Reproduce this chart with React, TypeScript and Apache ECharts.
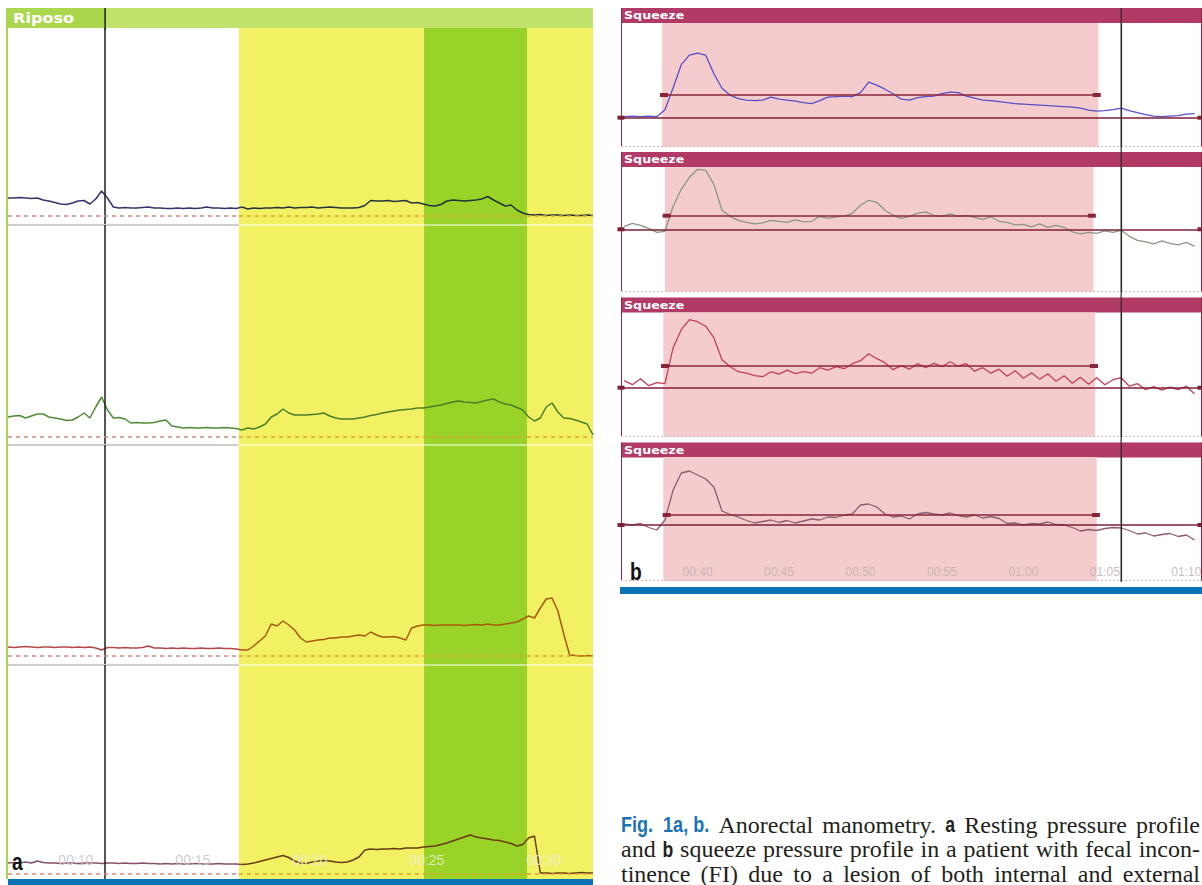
import React, { useEffect, useRef } from "react";
import * as echarts from "echarts";

// ---------- Panel a (resting profile) ----------
const A_T0 = 7.1;
const A_STEP = 0.25;
const A_RANGE = [7.1, 32.1];
const A_TICKS = [10, 15, 20, 25, 30];
const A_CURSOR = 11.25;
const A_YELLOW = [16.97, 32.1];
const A_GREEN = [24.88, 29.28];

const A_CH1 = [
  18, 18, 18.5, 18, 17.5, 18, 16, 15, 13.5, 12,
  11.5, 13, 15, 15.5, 12, 17, 25, 18, 9, 8,
  8.5, 8, 8, 8.5, 9, 8, 8, 7.5, 7.5, 8,
  7.5, 8, 7.5, 8, 9, 8, 8, 7.5, 8, 7.5,
  9, 7, 8, 7.5, 8, 8, 8.5, 8, 9, 8,
  8.5, 8.5, 9, 8, 8.5, 9, 8.5, 8, 8, 8,
  8.5, 10.5, 15.5, 15, 15, 15.5, 14.5, 15, 15.5, 13,
  13.5, 12, 10.5, 10, 11.5, 15, 16, 15.5, 15, 15.5,
  16, 17, 19.5, 16, 13, 10, 11, 6, 3, 1.5,
  1, 1.5, 0.5, 1, 1, 0.5, 1, 0.5, 0.5, 1, 0.5,
];
const A_CH2 = [
  20, 21, 21.5, 19, 21, 23, 23, 20, 19, 18,
  16.5, 17, 20, 24, 19, 30, 40, 27, 19, 19.5,
  18, 14, 14.5, 14, 14, 14.5, 16, 17, 11, 10,
  9, 9.5, 9, 9, 9.5, 9, 9, 9.5, 9, 8.5,
  7, 9, 8, 10, 13, 20, 23, 28, 24, 22,
  22, 22, 22.5, 23, 24, 21, 19, 18, 18, 18,
  19, 20, 21.5, 22.5, 24, 25, 26, 27, 27.5, 28,
  29, 29, 30, 31, 32, 33.5, 35, 36, 35, 34.5,
  34, 35.5, 37, 38, 35, 33, 32, 29.5, 27, 20,
  16, 19, 30, 34, 25, 19, 18.5, 17, 15, 13, 2,
];
const A_CH3 = [
  9, 8.5, 9, 9.5, 9, 8.5, 9, 9, 8.5, 9,
  9, 8.5, 9, 8.5, 9, 8, 6, 8.5, 8.5, 8,
  8.5, 8, 8, 8.5, 10, 8, 8, 7.5, 8, 7.5,
  8, 7.5, 7.5, 8, 7.5, 7.5, 8, 7.5, 7.5, 7,
  6, 6, 10, 15, 20, 32, 30, 35, 31, 26,
  18, 14, 15, 16, 16.5, 18, 18, 19, 19, 20,
  21, 20, 24, 21, 19, 19, 19.5, 18, 16, 28,
  30, 31, 31, 30.5, 31, 31, 31, 31, 30.5, 31,
  31.5, 31, 32, 31, 31, 32, 33, 34, 37, 40,
  38, 48, 57, 58, 45, 22, 1, 0.5, 0, 0.5, 0,
];
const A_CH4 = [
  11, 11.5, 11, 12, 11, 13, 11.5, 11, 11, 10.5,
  11, 11, 10.5, 11, 11, 11, 10.5, 11, 11, 10.5,
  11, 10.5, 10.5, 11, 10.5, 10.5, 10, 10.5, 10, 10.5,
  10, 10, 10.5, 10, 10, 10, 10.5, 10, 10, 10,
  9.5, 10, 11, 12.5, 14, 15.5, 17, 18.5, 16.5, 13,
  11, 10.5, 12, 13, 13.5, 13, 12, 11.5, 12, 14,
  17, 24, 25, 24.5, 25, 25, 25.5, 25, 26, 26,
  26, 27, 27.5, 28, 29.5, 31, 33, 35, 37, 39,
  37, 36, 35, 34, 33.5, 32, 30.5, 28, 29.5, 36,
  38, 1, 1, 0.5, 1, 1, 0.5, 1, 1.5, 1, 1,
];
const A_CHANNELS = [A_CH1, A_CH2, A_CH3, A_CH4];
const A_COLORS = [
  ["#33336e", "#24343c"],
  ["#4f8a34", "#4a7f26"],
  ["#b34848", "#a85a0c"],
  ["#86506c", "#6a3a12"],
];

// ---------- Panel b (squeeze profile) ----------
const B_T0 = 35.5;
const B_STEP = 0.5;
const B_RANGE = [35.3, 70.9];
const B_TICKS = [40, 45, 50, 55, 60, 65, 70];
const B_CURSOR = 66.0;
const B_PINK = [[37.82, 64.6], [38.0, 64.3], [37.9, 64.4], [37.9, 64.5]];
const B_MEAN_SPAN = [[37.94, 64.5], [38.1, 64.2], [38.0, 64.33], [38.1, 64.45]];
const B_MEAN = [22.7, 13.6, 21.7, 10];

const B_P1 = [
  1, 1.5, 1, 1.5, 1, 8, 30, 53, 62.5, 64.5,
  62.5, 44, 29.5, 22.5, 19, 17.5, 17, 17.5, 20.5, 18.5,
  17.5, 16.5, 15, 14, 17, 20.5, 21, 21.5, 21, 25,
  35.5, 32.5, 28.5, 24, 18.5, 17.5, 20, 21, 21.5, 24,
  25.5, 25, 21.5, 19.5, 17.5, 17, 16, 15, 14, 13.5,
  13, 12.5, 12, 11.5, 11, 10.5, 9.5, 7.5, 6.5, 7,
  8, 9.5, 7, 5, 3, 1.5, 1, 1.5, 2, 3.5, 4,
];
const B_P2 = [
  3, 6, 4, 1, -3, -2, 23, 40, 52, 60,
  59, 45, 19, 13, 9, 7, 5.5, 6.5, 9, 8,
  7, 9.5, 7.5, 8, 13, 11, 12.5, 13.5, 16, 24,
  29, 27, 19, 14, 11, 13, 16, 17.5, 14, 13,
  15.5, 13, 14, 12, 10, 12.5, 8, 7, 4.5, 5,
  2.5, 5.5, 2, 4, 2, -2.5, -4.5, -3, -4, -1.5,
  -3, -1, -7, -11, -12.5, -14.5, -11.5, -14, -15.5, -13, -17,
];
const B_P3 = [
  7, 3, 9, 2, 5, 4, 40, 58, 68, 66,
  61.5, 50, 28, 21, 16, 14.5, 12, 11, 16, 13.5,
  17.5, 14, 16, 14.5, 20, 17.5, 21, 19, 24, 27,
  34, 29, 25, 18, 22, 18.5, 24, 20, 24.5, 21,
  26, 21.5, 24, 16.5, 20, 14.5, 18.5, 11.5, 17, 9.5,
  15, 8.5, 14, 6.5, 12, 4.5, 10.5, 3.5, 10, 3,
  8, 10, 1.5, 4, -2, 1, -2.5, 0.5, -2, 1.5, -6,
];
const B_P4 = [
  1, 0, 1.5, -2.5, -5, 5, 35, 52, 54, 50,
  46, 38, 14, 10.5, 8, 4.5, 2, 3.5, 5, 2.5,
  4.5, 2, 4, 6, 5, 8, 7.5, 10, 11, 20,
  21, 18, 11, 8, 9, 6, 11, 12.5, 11, 10,
  12, 9.5, 8, 10, 7, 8.5, 6.5, 1.5, 2, 0,
  1.5, 1, 3, 0.5, 0, -2.5, -6, -4.5, -5.5, -3.5,
  -2.5, -3, -5.5, -9, -8, -11, -9.5, -8.5, -11.5, -10, -15,
];
const B_PANELS = [B_P1, B_P2, B_P3, B_P4];
const B_COLORS = ["#5a4ec6", "#8d9585", "#c23f58", "#8f5a72"];

// ---------- caption ----------
const CAPTION_LINES: [string, string][][] = [
  [["fig", "Fig.  1a, b."], ["r", "Anorectal"], ["r", "manometry."], ["b", "a"], ["r", "Resting"], ["r", "pressure"], ["r", "profile"]],
  [["r", "and"], ["b", "b"], ["r", "squeeze"], ["r", "pressure"], ["r", "profile"], ["r", "in"], ["r", "a"], ["r", "patient"], ["r", "with"], ["r", "fecal"], ["r", "incon-"]],
  [["r", "tinence"], ["r", "(FI)"], ["r", "due"], ["r", "to"], ["r", "a"], ["r", "lesion"], ["r", "of"], ["r", "both"], ["r", "internal"], ["r", "and"], ["r", "external"]],
  [["r", "anal"], ["r", "sphincters."]],
];
const CAPTION_Y = [824.5, 849, 873.5, 898];

// ---------- layout ----------
const A_LEFT = 8, A_WIDTH = 585;
const A_TOPS = [28, 225, 445, 665];
const A_BOTTOMS = [225, 445, 665, 879];
const A_Y = [[-9, 188], [-8, 212], [-9, 211], [-5, 209]];

const B_LEFT = 621, B_WIDTH = 580;
const B_TITLES = [8, 152, 297.5, 442.5];
const B_TOPS = [23, 167, 312.5, 457];
const B_BOTTOMS = [146.7, 291.7, 436.7, 581];
const B_Y = [[-29, 94.7], [-62.4, 62.3], [-49, 75.2], [-56, 68]];

const fmt = (v: number) => {
  const m = Math.floor(v / 60);
  const s = Math.round(v % 60);
  return `${String(m).padStart(2, "0")}:${String(s).padStart(2, "0")}`;
};

const seg = (x1: number, y1: number, x2: number, y2: number, lineStyle: any, extra0: any = {}, extra1: any = {}) => [
  { coord: [x1, y1], lineStyle, ...extra0 },
  { coord: [x2, y2], ...extra1 },
];

function buildOption() {
  const grid: any[] = [];
  const xAxis: any[] = [];
  const yAxis: any[] = [];
  const series: any[] = [];

  for (let g = 0; g < 4; g++) {
    grid.push({ left: A_LEFT, width: A_WIDTH, top: A_TOPS[g], height: A_BOTTOMS[g] - A_TOPS[g] });
    xAxis.push({ type: "value", gridIndex: g, min: A_RANGE[0], max: A_RANGE[1], show: false });
    yAxis.push({ type: "value", gridIndex: g, min: A_Y[g][0], max: A_Y[g][1], show: false });
    const yTop = A_Y[g][1], yBot = A_Y[g][0];
    const ml: any[] = [
      seg(A_CURSOR, yBot, A_CURSOR, yTop, { color: "#1e1e1e", width: 1.5, type: "solid" }),
      seg(A_RANGE[0], 0, A_YELLOW[0], 0, { color: "#cf8a78", width: 1.5, type: [4, 4] }),
      seg(A_YELLOW[0], 0, A_RANGE[1], 0, { color: "#e3a02a", width: 1.5, type: [4, 4] }),
    ];
    if (g < 3) {
      const yb = yBot + 0.5;
      ml.push(seg(A_RANGE[0], yb, A_YELLOW[0], yb, { color: "#cfcfcf", width: 2, type: "solid" }));
      ml.push(seg(A_YELLOW[0], yb, A_RANGE[1], yb, { color: "rgba(255,255,255,0.5)", width: 2, type: "solid" }));
    }
    series.push({
      type: "line", xAxisIndex: g, yAxisIndex: g, z: 1, silent: true,
      data: [[A_RANGE[0], yBot]], showSymbol: false, symbol: "none", lineStyle: { opacity: 0 },
      markArea: {
        silent: true,
        data: [
          [{ coord: [A_YELLOW[0], yTop], itemStyle: { color: "#f1f163" } }, { coord: [A_YELLOW[1], yBot] }],
          [{ coord: [A_GREEN[0], yTop], itemStyle: { color: "#99d327" } }, { coord: [A_GREEN[1], yBot] }],
        ],
      },
      markLine: { silent: true, symbol: ["none", "none"], label: { show: false }, data: ml },
    });
    const pts = A_CHANNELS[g].map((v, i) => [+(A_T0 + i * A_STEP).toFixed(3), v]);
    const split = pts.findIndex((d) => d[0] >= A_YELLOW[0]);
    series.push({
      type: "line", xAxisIndex: g, yAxisIndex: g, z: 3, silent: true,
      showSymbol: false, symbol: "none", data: pts.slice(0, split + 1),
      lineStyle: { width: 1.5, color: A_COLORS[g][0] }, itemStyle: { color: A_COLORS[g][0] },
    });
    series.push({
      type: "line", xAxisIndex: g, yAxisIndex: g, z: 3, silent: true,
      showSymbol: false, symbol: "none", data: pts.slice(split),
      lineStyle: { width: 1.5, color: A_COLORS[g][1] }, itemStyle: { color: A_COLORS[g][1] },
    });
  }

  for (let p = 0; p < 4; p++) {
    const gi = 4 + p;
    grid.push({ left: B_LEFT, width: B_WIDTH, top: B_TOPS[p], height: B_BOTTOMS[p] - B_TOPS[p] });
    xAxis.push({ type: "value", gridIndex: gi, min: B_RANGE[0], max: B_RANGE[1], show: false });
    yAxis.push({ type: "value", gridIndex: gi, min: B_Y[p][0], max: B_Y[p][1], show: false });
    const yTop = B_Y[p][1], yBot = B_Y[p][0];
    const dotY = yBot + 0.6;
    series.push({
      type: "line", xAxisIndex: gi, yAxisIndex: gi, z: 1, silent: true,
      data: [[B_RANGE[0], yBot]], showSymbol: false, symbol: "none", lineStyle: { opacity: 0 },
      markArea: {
        silent: true,
        data: [[{ coord: [B_PINK[p][0], yTop], itemStyle: { color: "#f5cccd" } }, { coord: [B_PINK[p][1], yBot] }]],
      },
      markLine: {
        silent: true, symbol: ["none", "none"], label: { show: false },
        data: [
          seg(B_RANGE[0], dotY, B_RANGE[1], dotY, { color: "#d7b3bb", width: 1, type: [2, 2] }),
          seg(B_CURSOR, yBot, B_CURSOR, yTop, { color: "#2a2a2a", width: 1.2, type: "solid" }),
          seg(B_RANGE[0], 0, B_RANGE[1], 0, { color: "#7d1f36", width: 1.5, type: "solid" },
            { symbol: "rect", symbolSize: [4, 7], itemStyle: { color: "#5a1030" } },
            { symbol: "rect", symbolSize: [4, 7], itemStyle: { color: "#5a1030" } }),
          seg(B_MEAN_SPAN[p][0], B_MEAN[p], B_MEAN_SPAN[p][1], B_MEAN[p], { color: "#8a2438", width: 1.5, type: "solid" },
            { symbol: "rect", symbolSize: [4, 8], itemStyle: { color: "#6b1228" } },
            { symbol: "rect", symbolSize: [4, 8], itemStyle: { color: "#6b1228" } }),
        ],
      },
    });
    series.push({
      type: "line", xAxisIndex: gi, yAxisIndex: gi, z: 3, silent: true,
      showSymbol: false, symbol: "none",
      data: B_PANELS[p].map((v, i) => [+(B_T0 + i * B_STEP).toFixed(3), v]),
      lineStyle: { width: 1.3, color: B_COLORS[p] },
      itemStyle: { color: B_COLORS[p] },
    });
  }

  return { animation: false, backgroundColor: "#ffffff", grid, xAxis, yAxis, series };
}

const CAP_FONTS: Record<string, { size: number; weight: string; family: string; fill: string; sx: number }> = {
  r: { size: 24, weight: "normal", family: "Liberation Serif", fill: "#231f20", sx: 1 },
  b: { size: 22, weight: "bold", family: "Liberation Sans", fill: "#231f20", sx: 0.8 },
  fig: { size: 22, weight: "bold", family: "Liberation Sans", fill: "#1a73b5", sx: 0.82 },
};

function buildGraphic(chart: any) {
  const toX = (gi: number, t: number) => (chart.convertToPixel({ gridIndex: gi }, [t, 0]) as number[])[0];
  const ax = toX(0, A_CURSOR);
  const bx = toX(4, B_CURSOR);
  const els: any[] = [];
  const condensed = "Liberation Sans";
  // panel a title bar
  els.push({ type: "rect", shape: { x: 8, y: 8, width: 585, height: 20 }, style: { fill: "#c0e16b" } });
  els.push({ type: "rect", shape: { x: 8, y: 8, width: 97, height: 20 }, style: { fill: "#abd74f" } });
  els.push({ type: "text", x: 13, y: 18, scaleX: 1.15, style: { text: "Riposo", fill: "#ffffff", fontSize: 14, fontWeight: "bold", fontFamily: "DejaVu Sans", verticalAlign: "middle" } });
  els.push({ type: "line", shape: { x1: 7, y1: 8, x2: 7, y2: 879 }, style: { stroke: "#a9d452", lineWidth: 2 } });
  els.push({ type: "line", shape: { x1: 592, y1: 28, x2: 592, y2: 879 }, style: { stroke: "#dcee92", lineWidth: 1.5 } });
  els.push({ type: "line", z: 50, shape: { x1: ax, y1: 8, x2: ax, y2: 30 }, style: { stroke: "#1e1e1e", lineWidth: 1.5 } });
  els.push({ type: "rect", shape: { x: 8, y: 879, width: 585, height: 6 }, style: { fill: "#0b72b4" } });
  A_TICKS.forEach((t) => {
    const fill = t < A_YELLOW[0] ? "rgba(200,200,200,0.9)" : "rgba(236,236,220,0.85)";
    els.push({ type: "text", z: 40, x: toX(3, t), y: 860, style: { text: fmt(t), fill, fontSize: 14, fontFamily: "Liberation Sans", align: "center", verticalAlign: "middle" } });
  });
  els.push({ type: "text", x: 12, y: 862, z: 60, scaleX: 0.8, style: { text: "a", fill: "#111", fontSize: 24, fontWeight: "bold", fontFamily: condensed, verticalAlign: "middle" } });

  // panel b
  for (let p = 0; p < 4; p++) {
    els.push({ type: "rect", shape: { x: 621, y: B_TITLES[p], width: 581, height: 15 }, style: { fill: "#b23a66" } });
    els.push({ type: "text", x: 624, y: B_TITLES[p] + 7.5, scaleX: 1.15, style: { text: "Squeeze", fill: "#ffffff", fontSize: 11, fontWeight: "bold", fontFamily: "DejaVu Sans", verticalAlign: "middle" } });
    els.push({ type: "line", shape: { x1: 621.5, y1: B_TITLES[p], x2: 621.5, y2: B_BOTTOMS[p] }, style: { stroke: "#8c2a48", lineWidth: 1 } });
    els.push({ type: "line", shape: { x1: 1201.5, y1: B_TITLES[p], x2: 1201.5, y2: B_BOTTOMS[p] }, style: { stroke: "#8c2a48", lineWidth: 1 } });
  }
  els.push({ type: "line", z: 50, shape: { x1: bx, y1: 8, x2: bx, y2: 582 }, style: { stroke: "#2a2a2a", lineWidth: 1.2 } });
  els.push({ type: "rect", shape: { x: 620, y: 587, width: 582, height: 7 }, style: { fill: "#0b72b4" } });
  B_TICKS.forEach((t) => {
    els.push({ type: "text", z: 40, x: toX(7, t), y: 572, style: { text: fmt(t), fill: "rgba(190,175,175,0.85)", fontSize: 12, fontFamily: "Liberation Sans", align: "center", verticalAlign: "middle" } });
  });
  els.push({ type: "text", x: 630, y: 572, z: 60, scaleX: 0.8, style: { text: "b", fill: "#111", fontSize: 24, fontWeight: "bold", fontFamily: condensed, verticalAlign: "middle" } });

  // caption, justified word by word
  const cv = document.createElement("canvas").getContext("2d") as CanvasRenderingContext2D;
  const width = (k: string, t: string) => {
    const f = CAP_FONTS[k];
    cv.font = `${f.weight} ${f.size}px "${f.family}"`;
    return cv.measureText(t).width * f.sx;
  };
  const X0 = 621, X1 = 1200;
  const spaceW = width("r", " ");
  CAPTION_LINES.forEach((words, li) => {
    const ws = words.map(([k, t]) => width(k, t));
    const total = ws.reduce((a, b) => a + b, 0);
    const justify = li < CAPTION_LINES.length - 1;
    let gap = justify && words.length > 1 ? (X1 - X0 - total) / (words.length - 1) : spaceW;
    if (gap < spaceW * 0.6) gap = spaceW * 0.6;
    let x = X0;
    const y = CAPTION_Y[li];
    words.forEach(([k, t], wi) => {
      const f = CAP_FONTS[k];
      els.push({
        type: "text", x, y, scaleX: f.sx,
        style: { text: t, fill: f.fill, fontSize: f.size, fontWeight: f.weight, fontFamily: f.family, verticalAlign: "middle" },
      });
      x += ws[wi] + gap;
    });
  });
  return els;
}

export default function App() {
  const ref = useRef<HTMLDivElement>(null);
  useEffect(() => {
    document.body.style.margin = "0";
    if (!ref.current) return;
    const chart = echarts.init(ref.current, null, { renderer: "svg" });
    chart.setOption(buildOption() as any);
    chart.setOption({ graphic: buildGraphic(chart) } as any);
    return () => chart.dispose();
  }, []);
  return <div ref={ref} style={{ width: 1202, height: 885 }} />;
}
